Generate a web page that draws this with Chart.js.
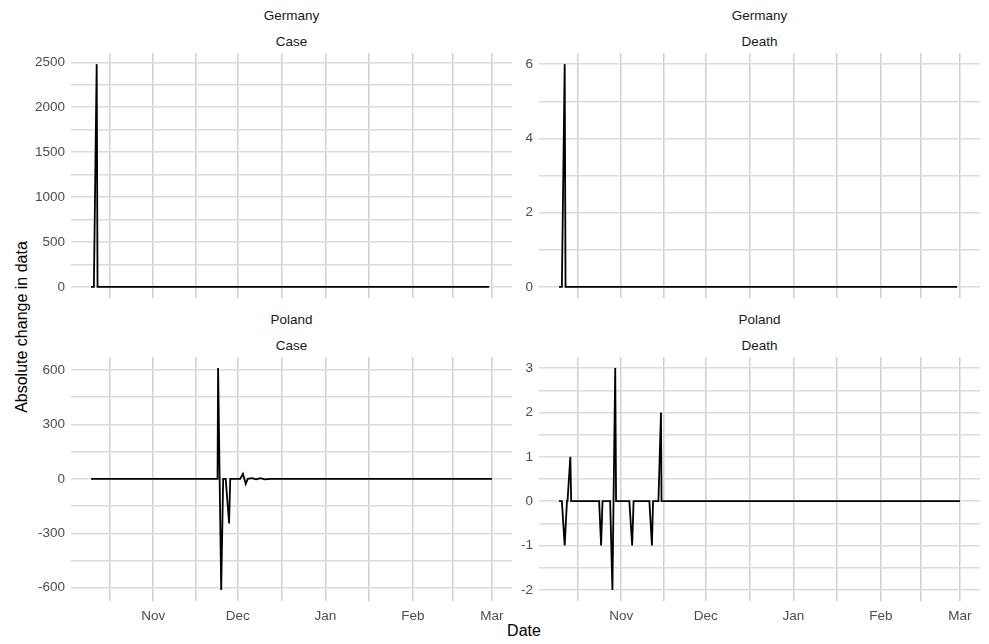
<!DOCTYPE html>
<html>
<head>
<meta charset="utf-8">
<script src="https://cdn.jsdelivr.net/npm/chart.js@4.4.1/dist/chart.umd.min.js"></script>
<style>
  body { margin: 0; background: #fff; width: 989px; height: 644px; position: relative; overflow: hidden;
         font-family: "Liberation Sans", Arial, sans-serif; }
  canvas { position: absolute; }
  .strip { position: absolute; width: 441px; text-align: center; font-size: 13.5px; color: #1a1a1a;
           line-height: 16px; height: 16px; }
  .axtitle { position: absolute; font-size: 16px; color: #000; line-height: 18px; white-space: nowrap; }
</style>
</head>
<body>
<div class="strip" style="left:71px;top:8px">Germany</div>
<div class="strip" style="left:71px;top:34px">Case</div>
<div class="strip" style="left:539px;top:8px">Germany</div>
<div class="strip" style="left:539px;top:34px">Death</div>
<div class="strip" style="left:71px;top:312px">Poland</div>
<div class="strip" style="left:71px;top:338px">Case</div>
<div class="strip" style="left:539px;top:312px">Poland</div>
<div class="strip" style="left:539px;top:338px">Death</div>
<div class="axtitle" style="left:424px;top:622px;width:200px;text-align:center">Date</div>
<div class="axtitle" style="left:-78px;top:318px;width:200px;text-align:center;transform:rotate(-90deg)">Absolute change in data</div>

<!-- panels: 441px wide; top row y 53..298, bottom row y 357..601 -->
<canvas id="deCase"  width="507" height="277" style="left:21px;top:37px"></canvas>
<canvas id="deDeath" width="487" height="277" style="left:509px;top:37px"></canvas>
<canvas id="plCase"  width="507" height="290" style="left:21px;top:341px"></canvas>
<canvas id="plDeath" width="487" height="290" style="left:509px;top:341px"></canvas>

<script>
// x values are days counted from 1 Nov 2020
const deCaseDays  = [-22, -21, -20, -19.7, 119];
const deCaseVals  = [0, 0, 2480, 0, 0];

const deDeathDays = [-22, -21, -20, -19.7, 119];
const deDeathVals = [0, 0, 6, 0, 0];

const plCaseDays = [-22, 22.8, 23, 24.1, 24.8, 25.7, 26.9, 27.3, 30.8, 31.8, 32.8, 33.5, 35, 36.5, 38, 39.5, 41.4, 120];
const plCaseVals = [0, 0, 610, -612, 0, 0, -246, 0, 0, 28, -28, 0, 4, -3, 4, -3, 0, 0];

const plDeathDays = [-22, -21, -20, -19.2, -19, -18, -17.7, -7.8, -7.1, -6.6, -3.9, -3.1, -2.1, -1.8,
                     2.9, 3.9, 4.4, 10, 10.9, 11.3, 13.2, 14.1, 14.3, 120];
const plDeathVals = [0, 0, -1, 0, 0, 1, 0, 0, -1, 0, 0, -2, 3, 0,
                     0, -1, 0, 0, -1, 0, 0, 2, 0, 0];

// x axis: month starts and the minor breaks between them
const monthDays   = [0, 30, 61, 92, 120];
const monthLabels = ["Nov", "Dec", "Jan", "Feb", "Mar"];
const minorDays   = [-15.5, 15, 45.5, 76.5, 106];

// y axis breaks per panel
const deCaseTicks  = [0, 500, 1000, 1500, 2000, 2500];
const deDeathTicks = [0, 2, 4, 6];
const plCaseTicks  = [-600, -300, 0, 300, 600];
const plDeathTicks = [-2, -1, 0, 1, 2, 3];

const FONT = "'Liberation Sans', Arial, sans-serif";
const TICK = "#4d4d4d";
const HGRID = "#dcdcdc";
const VGRID = "#d0d0d0";
const EDGE = 16;   // canvas margin round each panel

Chart.defaults.font.family = FONT;

// shared x range, ggplot style 5% expansion
const allDays = [...deCaseDays, ...deDeathDays, ...plCaseDays, ...plDeathDays];
const dMin = Math.min(...allDays), dMax = Math.max(...allDays);
const xMin = dMin - (dMax - dMin) * 0.05;
const xMax = dMax + (dMax - dMin) * 0.05;

function panel(id, days, vals, yMajors, showX, axisW) {
  const lo = Math.min(...vals), hi = Math.max(...vals);
  const pad = (hi - lo) * 0.05;
  const yMinors = yMajors.slice(1).map((v, i) => (v + yMajors[i]) / 2);

  new Chart(document.getElementById(id), {
    type: "line",
    data: {
      datasets: [{
        data: days.map((d, i) => ({ x: d, y: vals[i] })),
        borderColor: "#000", borderWidth: 1.8,
        pointRadius: 0, tension: 0, fill: false,
      }]
    },
    options: {
      responsive: false,
      animation: false,
      events: [],
      layout: { padding: { top: EDGE, right: EDGE, bottom: showX ? 0 : EDGE, left: 0 } },
      plugins: { legend: { display: false }, tooltip: { enabled: false } },
      scales: {
        x: {
          type: "linear", min: xMin, max: xMax,
          border: { display: false },
          grid: { color: VGRID, lineWidth: 1.5, drawTicks: false },
          afterBuildTicks: s => {
            s.ticks = [...minorDays, ...monthDays].sort((a, b) => a - b).map(v => ({ value: v }));
          },
          afterFit: s => { s.height = showX ? 30 : 0; },
          ticks: {
            display: showX, autoSkip: false, maxRotation: 0, padding: 7,
            color: TICK, font: { size: 13.5 },
            callback: v => {
              const i = monthDays.indexOf(v);
              return i < 0 ? "" : monthLabels[i];
            }
          }
        },
        y: {
          min: lo - pad, max: hi + pad,
          border: { display: false },
          grid: { color: HGRID, lineWidth: 1.5, drawTicks: false },
          afterBuildTicks: s => {
            s.ticks = [...yMajors, ...yMinors].sort((a, b) => a - b).map(v => ({ value: v }));
          },
          afterFit: s => { s.width = axisW; },
          ticks: {
            autoSkip: false, padding: 6, color: TICK, font: { size: 13.5 },
            callback: v => yMajors.includes(v) ? String(v) : ""
          }
        }
      }
    }
  });
}

panel("deCase",  deCaseDays,  deCaseVals,  deCaseTicks,  false, 50);
panel("deDeath", deDeathDays, deDeathVals, deDeathTicks, false, 30);
panel("plCase",  plCaseDays,  plCaseVals,  plCaseTicks,  true,  50);
panel("plDeath", plDeathDays, plDeathVals, plDeathTicks, true,  30);
</script>
</body>
</html>
